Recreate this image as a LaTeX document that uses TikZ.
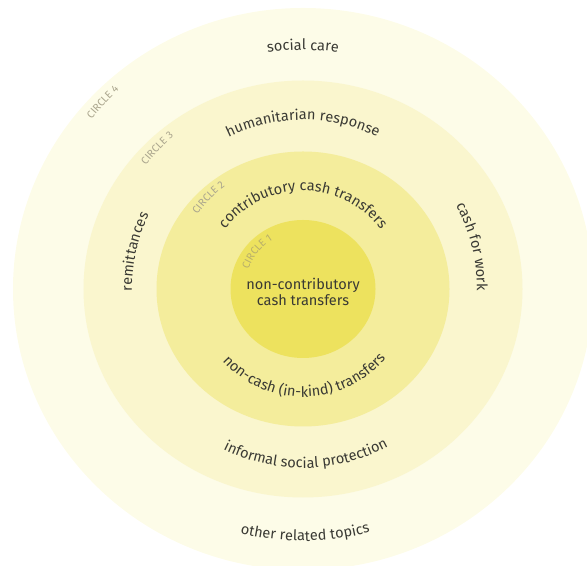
\documentclass[tikz,border=0pt]{standalone}
\usepackage{fontspec}
\setmainfont{Fira Sans}
\usetikzlibrary{decorations.text,calc}
\definecolor{cfour}{HTML}{FDFCE8}
\definecolor{cthree}{HTML}{FAF6CE}
\definecolor{ctwo}{HTML}{F4ED9C}
\definecolor{cone}{HTML}{EDE25E}
\definecolor{txtgray}{HTML}{3A3A34}
\definecolor{lblgray}{HTML}{ABA68E}
\definecolor{lblone}{HTML}{B9B06A}
\newcommand\mainfs{\fontsize{14.6}{16}\selectfont}
\newcommand\smallfs{\fontsize{10.5}{10.5}\selectfont}
\begin{document}
\begin{tikzpicture}[x=1bp,y=1bp,
  toptext/.style n args={4}{decorate,decoration={text along path,text align=center,text color=txtgray,text={|\mainfs|#4}},
     insert path={($(C)+(#1:#3 bp)$) arc[start angle=#1,end angle=#2,radius=#3 bp]}},
  lbltext/.style n args={5}{decorate,decoration={text along path,text align=center,text color=#5,text={|\smallfs|#4}},
     insert path={($(C)+(#1:#3 bp)$) arc[start angle=#1,end angle=#2,radius=#3 bp]}}
]
\useasboundingbox (0,0) rectangle (587,566);
\clip (0,0) rectangle (587,566);
\coordinate (C) at (303,277);
\fill[cfour]  (C) ellipse [x radius=290bp, y radius=281bp];
\fill[cthree] (C) ellipse [x radius=219.5bp, y radius=208.5bp];
\fill[ctwo]   (C) ellipse [x radius=146.5bp, y radius=137.5bp];
\fill[cone]   (C) ellipse [x radius=72.5bp, y radius=69bp];
% top texts (clockwise)
\path[toptext={125}{55}{239}{social care}];
\path[toptext={150}{30}{169}{humanitarian response}];
\path[toptext={175}{5}{98}{contributory cash transfers}];
\path[toptext={205}{130}{171}{remittances}];
\path[toptext={50}{-22}{174}{cash for work}];
% bottom texts (counterclockwise)
\path[toptext={196}{346}{108}{non-cash (in-kind) transfers}];
\path[toptext={220}{322}{179}{informal social protection}];
\path[toptext={240}{301}{252}{other related topics}];
% circle labels
\path[lbltext={160}{114}{271}{CIRCLE 4}{lblgray}];
\path[lbltext={165}{107}{200}{CIRCLE 3}{lblgray}];
\path[lbltext={170}{102}{129}{CIRCLE 2}{lblgray}];
\path[lbltext={190}{92}{58}{CIRCLE 1}{lblone}];
\node[align=center,font=\mainfs,text=txtgray] (ctr) at (303,274) {non-contributory\\cash transfers};
\end{tikzpicture}
\end{document}
